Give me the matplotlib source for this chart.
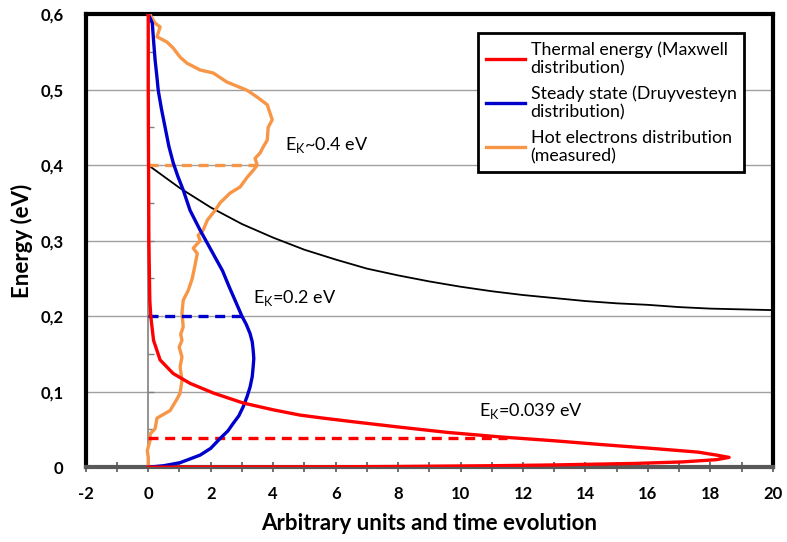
import matplotlib
matplotlib.use("Agg")
from matplotlib import pyplot as plt
import numpy as np

plt.rcParams['font.family'] = ['Lato', 'DejaVu Sans']
plt.rcParams['mathtext.fontset'] = 'custom'
plt.rcParams['mathtext.rm'] = 'Lato'
plt.rcParams['axes.unicode_minus'] = False

# Maxwell distribution (thermal energy), energy vs arbitrary units
maxwell_E = [0, 0.0005, 0.001, 0.002, 0.003, 0.005, 0.007, 0.010, 0.013, 0.016, 0.020, 0.025,
             0.030, 0.035, 0.040, 0.046, 0.053, 0.060, 0.065, 0.069, 0.076, 0.085, 0.098,
             0.111, 0.124, 0.142, 0.168, 0.200, 0.221, 0.300, 0.400, 0.500, 0.600]
maxwell_x = [0, 5.9, 8.1, 11.1, 13.0, 15.6, 17.1, 18.2, 18.6, 18.2, 17.6, 16.1,
             14.5, 13.0, 11.3, 9.6, 8.06, 6.6, 5.6, 4.86, 4.0, 3.04, 2.1,
             1.34, 0.8, 0.38, 0.17, 0.08, 0.05, 0.02, 0.01, 0.0, 0.0]

# Druyvesteyn distribution (steady state)
druy_E = [0, 0.002, 0.006, 0.016, 0.025, 0.038, 0.048, 0.058, 0.068, 0.080, 0.093, 0.106,
          0.120, 0.133, 0.144, 0.155, 0.166, 0.177, 0.189, 0.200, 0.221, 0.240, 0.260,
          0.290, 0.314, 0.340, 0.367, 0.385, 0.403, 0.425, 0.450, 0.475, 0.499, 0.520,
          0.539, 0.565, 0.588, 0.600]
druy_x = [0, 0.5, 1.02, 1.66, 2.0, 2.3, 2.55, 2.72, 2.9, 3.04, 3.16, 3.26,
          3.33, 3.36, 3.38, 3.36, 3.33, 3.26, 3.14, 3.0, 2.78, 2.58, 2.38,
          1.98, 1.66, 1.34, 1.12, 0.95, 0.8, 0.66, 0.54, 0.42, 0.32, 0.27,
          0.22, 0.17, 0.13, 0.0]

# hot electrons distribution (measured)
hot_E = [0.000, 0.013, 0.022, 0.036, 0.044, 0.051, 0.065, 0.075, 0.091, 0.098, 0.115, 0.133,
         0.146, 0.159, 0.168, 0.176, 0.186, 0.204, 0.221, 0.234, 0.250, 0.268, 0.283, 0.290,
         0.300, 0.307, 0.314, 0.327, 0.340, 0.350, 0.363, 0.371, 0.384, 0.393, 0.400, 0.409,
         0.416, 0.424, 0.433, 0.450, 0.460, 0.480, 0.490, 0.499, 0.510, 0.522, 0.526, 0.535,
         0.543, 0.555, 0.563, 0.570, 0.583, 0.588, 0.599, 0.600]
hot_x = [0.0, 0.0, -0.03, 0.06, 0.06, 0.22, 0.28, 0.70, 0.93, 1.02, 1.08, 1.02,
         1.08, 0.99, 1.08, 1.04, 1.12, 1.08, 1.12, 1.28, 1.41, 1.50, 1.57, 1.44,
         1.66, 1.60, 1.76, 1.89, 2.14, 2.30, 2.62, 2.94, 3.17, 3.36, 3.49, 3.42,
         3.58, 3.68, 3.81, 3.84, 3.97, 3.81, 3.49, 3.17, 2.52, 2.08, 1.66, 1.24,
         1.02, 0.80, 0.60, 0.28, 0.38, 0.22, 0.06, 0.0]

# time evolution (black)
evol_x = [0, 1, 2, 3, 4, 5, 6, 7, 8, 9, 10, 11, 12, 13, 14, 15, 16, 17, 18, 19, 20]
evol_E = [0.400, 0.370, 0.344, 0.322, 0.304, 0.288, 0.275, 0.263, 0.254, 0.246, 0.239,
          0.233, 0.228, 0.224, 0.220, 0.217, 0.215, 0.212, 0.210, 0.209, 0.208]

# mean energies
ek_E = [0.039, 0.2, 0.4]
ek_end = [11.5, 3.0, 3.48]
ek_text = [r"E$_\mathrm{K}$=0.039 eV", r"E$_\mathrm{K}$=0.2 eV", r"E$_\mathrm{K}$~0.4 eV"]
ek_pos = [(10.6, 0.075), (3.36, 0.224), (4.38, 0.426)]

yticks = [0, 0.1, 0.2, 0.3, 0.4, 0.5, 0.6]
ylabels = ["0", "0,1", "0,2", "0,3", "0,4", "0,5", "0,6"]
xticks = [-2, 0, 2, 4, 6, 8, 10, 12, 14, 16, 18, 20]

red = '#FF0000'
blue = '#0000CC'
orange = '#F79646'

fig = plt.figure(figsize=(7.87, 5.42), dpi=100)
ax = fig.add_axes([0.109, 0.138, 0.873, 0.836])

for y in yticks[1:-1]:
    ax.axhline(y, color='#A0A0A0', lw=1, zorder=1)

# vertical axis line at x=0 with small ticks
ax.plot([0, 0], [0, 0.6], color='#808080', lw=1.2, zorder=1)
ax.plot([0] * 12, np.arange(1, 13) * 0.05, ls='none', marker=1, ms=4, mew=1, color='#808080', zorder=1)

ax.plot(evol_x, evol_E, color='black', lw=1.3, zorder=2)
ax.plot(hot_x, hot_E, color=orange, lw=2.4, zorder=3, solid_joinstyle='round',
        label='Hot electrons distribution\n(measured)')
ax.plot(druy_x, druy_E, color=blue, lw=2.4, zorder=4, solid_joinstyle='round',
        label='Steady state (Druyvesteyn\ndistribution)')
ax.plot(maxwell_x, maxwell_E, color=red, lw=2.4, zorder=5, solid_joinstyle='round',
        label='Thermal energy (Maxwell\ndistribution)')

for E, x1, c in zip(ek_E, ek_end, [red, blue, orange]):
    ax.plot([0, x1], [E, E], color=c, lw=2.4, ls=(0, (3, 2)), zorder=3)

for t, (x, y) in zip(ek_text, ek_pos):
    ax.text(x, y, t, fontsize=13, va='center', ha='left')

ax.set_xlim(-2, 20)
ax.set_ylim(0, 0.6)
ax.set_xticks(xticks)
ax.set_xticks(np.arange(-2, 21, 1), minor=True)
ax.set_yticks(yticks)
ax.set_yticklabels(ylabels)
ax.tick_params(axis='x', which='both', direction='inout', length=7, width=1.2, color='#595959', pad=10)
ax.tick_params(axis='y', length=0, pad=16)
for lab in ax.get_xticklabels() + ax.get_yticklabels():
    lab.set_fontweight('bold')
    lab.set_fontsize(12)

for s in ['left', 'top', 'right']:
    ax.spines[s].set_linewidth(3)
    ax.spines[s].set_color('black')
ax.spines['bottom'].set_linewidth(3)
ax.spines['bottom'].set_color('#595959')

ax.set_xlabel('Arbitrary units and time evolution', fontsize=16, fontweight='bold', labelpad=8)
ax.set_ylabel('Energy (eV)', fontsize=16, fontweight='bold', labelpad=5)

handles, labels = ax.get_legend_handles_labels()
leg = ax.legend(handles[::-1], labels[::-1], loc='upper left', bbox_to_anchor=(0.571, 0.958),
                borderaxespad=0, fontsize=12.8, fancybox=False, framealpha=1, handlelength=2.2,
                handletextpad=0.3, borderpad=0.45, labelspacing=0.5)
leg.get_frame().set_edgecolor('black')
leg.get_frame().set_linewidth(2)

fig.savefig('out.png', dpi=100)
